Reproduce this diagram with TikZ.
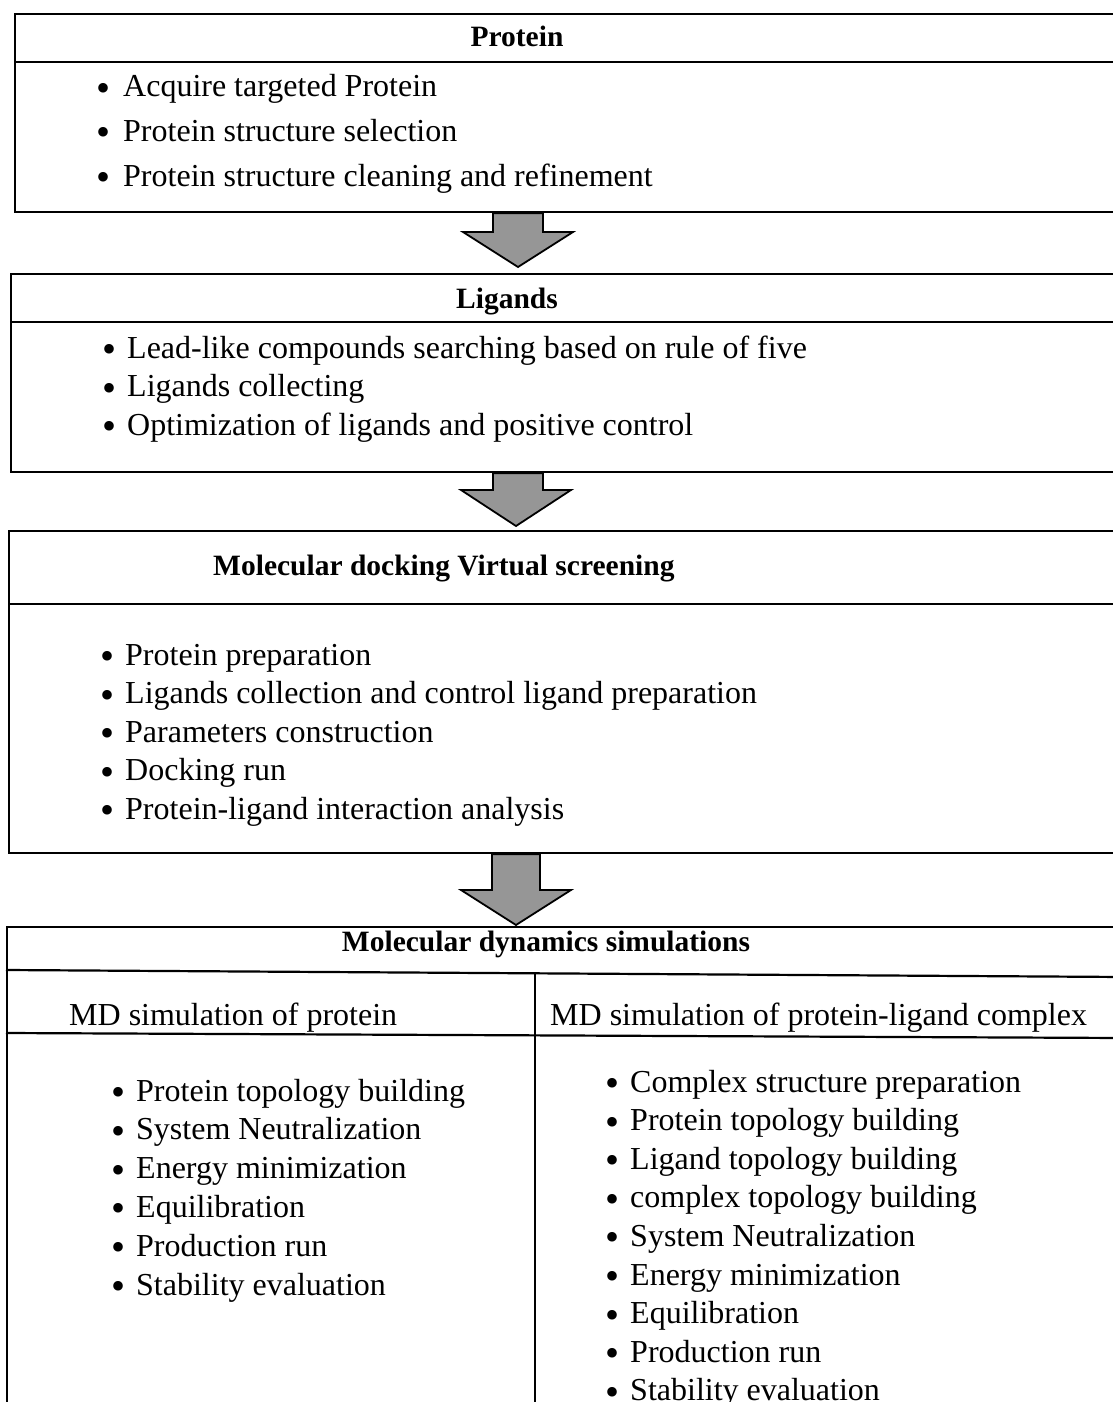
\documentclass[tikz,border=0pt]{standalone}
\usepackage{fontspec}
\setmainfont{Liberation Serif}
\usetikzlibrary{calc}
\definecolor{arrowgray}{RGB}{150,150,150}
\newcommand\mybul[1]{\llap{\raisebox{-4.5pt}{\fontsize{40}{40}\selectfont\textbullet}\hspace{#1}}}
\begin{document}
\begin{tikzpicture}[x=1pt,y=-1pt,
  box/.style={draw=black,line width=2.2pt,rectangle,inner sep=0pt,anchor=north west},
  rule/.style={draw=black,line width=2.2pt},
  blockarrow/.style={draw=black,line width=1.8pt,fill=arrowgray,line join=miter},
  headtext/.style={inner sep=0pt,anchor=base,font=\fontsize{29.5}{36}\selectfont\bfseries},
  subtext/.style={inner sep=0pt,anchor=base west,font=\fontsize{32}{38}\selectfont},
  bodytext/.style={inner sep=0pt,anchor=base west,font=\fontsize{32}{38}\selectfont}]
\useasboundingbox[fill=white] (0,0) rectangle (1112,1402);

% boxes
\node[box,minimum width=1120pt,minimum height=198pt] (box1) at (14,13) {};
\node[box,minimum width=1120pt,minimum height=198pt] (box2) at (10,273) {};
\node[box,minimum width=1120pt,minimum height=322pt] (box3) at (8,530) {};
\node[box,minimum width=1120pt,minimum height=520pt] (box4) at (6,926) {};

% header rules
\draw[rule] ([yshift=-49pt]box1.north west) -- ([yshift=-49pt]box1.north east);
\draw[rule] ([yshift=-49pt]box2.north west) -- ([yshift=-49pt]box2.north east);
\draw[rule] ([yshift=-74pt]box3.north west) -- ([yshift=-74pt]box3.north east);
\coordinate (h4l) at (6,970);
\coordinate (h4r) at (1125,977);
\coordinate (s4l) at (6,1033);
\coordinate (s4r) at (1125,1038);
\draw[rule] (h4l) -- (h4r);
\draw[rule] (s4l) -- (s4r);
\coordinate (d4t) at (535,973);
\draw[rule] (d4t) -- (d4t |- box4.south);

% block arrows
\coordinate (a1s) at (box1.south -| 518,0);
\coordinate (a1t) at (518,267);
\coordinate (a2s) at (box2.south -| 518,0);
\coordinate (a2t) at (516,526);
\coordinate (a3s) at (box3.south -| 516,0);
\coordinate (a3t) at (516,925);
\draw[blockarrow] ($(a1s)+(-25,0)$) -- ($(a1s|-a1t)+(-25,-35)$) -- ($(a1t)+(-55,-35)$) -- (a1t) -- ($(a1t)+(55,-35)$) -- ($(a1s|-a1t)+(25,-35)$) -- ($(a1s)+(25,0)$) -- cycle;
\draw[blockarrow] ($(a2s)+(-25,0)$) -- ($(a2s|-a2t)+(-25,-36)$) -- ($(a2t)+(-55,-36)$) -- (a2t) -- ($(a2t)+(55,-36)$) -- ($(a2s|-a2t)+(25,-36)$) -- ($(a2s)+(25,0)$) -- cycle;
\draw[blockarrow] ($(a3s)+(-24,0)$) -- ($(a3s|-a3t)+(-24,-35)$) -- ($(a3t)+(-55,-35)$) -- (a3t) -- ($(a3t)+(55,-35)$) -- ($(a3s|-a3t)+(24,-35)$) -- ($(a3s)+(24,0)$) -- cycle;

% headers
\node[headtext] (t1) at (517,47) {Protein};
\node[headtext] (t2) at (507,308) {Ligands};
\node[headtext,anchor=base west] (t3) at (213,575) {Molecular docking Virtual screening};
\node[headtext] (t4) at (546,951) {Molecular dynamics simulations};
\node[subtext] (t5) at (69,1025) {MD simulation of protein};
\node[subtext] (t6) at (550,1025) {MD simulation of protein-ligand complex};

% lists
\foreach \t [count=\i] in {Acquire targeted Protein,Protein structure selection,Protein structure cleaning and refinement}
  \node[bodytext] (p\i) at (123,{97+(\i-1)*44.5}) {\mybul{13pt}\t};
\foreach \t [count=\i] in {Lead-like compounds searching based on rule of five,Ligands collecting,Optimization of ligands and positive control}
  \node[bodytext] (l\i) at (127,{358+(\i-1)*38.5}) {\mybul{11pt}\t};
\foreach \t [count=\i] in {Protein preparation,Ligands collection and control ligand preparation,Parameters construction,Docking run,Protein-ligand interaction analysis}
  \node[bodytext] (d\i) at (125,{665+(\i-1)*38.6}) {\mybul{11pt}\t};
\foreach \t [count=\i] in {Protein topology building,System Neutralization,Energy minimization,Equilibration,Production run,Stability evaluation}
  \node[bodytext] (m\i) at (136,{1101+(\i-1)*38.8}) {\mybul{11pt}\t};
\foreach \t [count=\i] in {Complex structure preparation,Protein topology building,Ligand topology building,complex topology building,System Neutralization,Energy minimization,Equilibration,Production run,Stability evaluation}
  \node[bodytext] (c\i) at (630,{1092+(\i-1)*38.6}) {\mybul{11pt}\t};
\end{tikzpicture}
\end{document}
